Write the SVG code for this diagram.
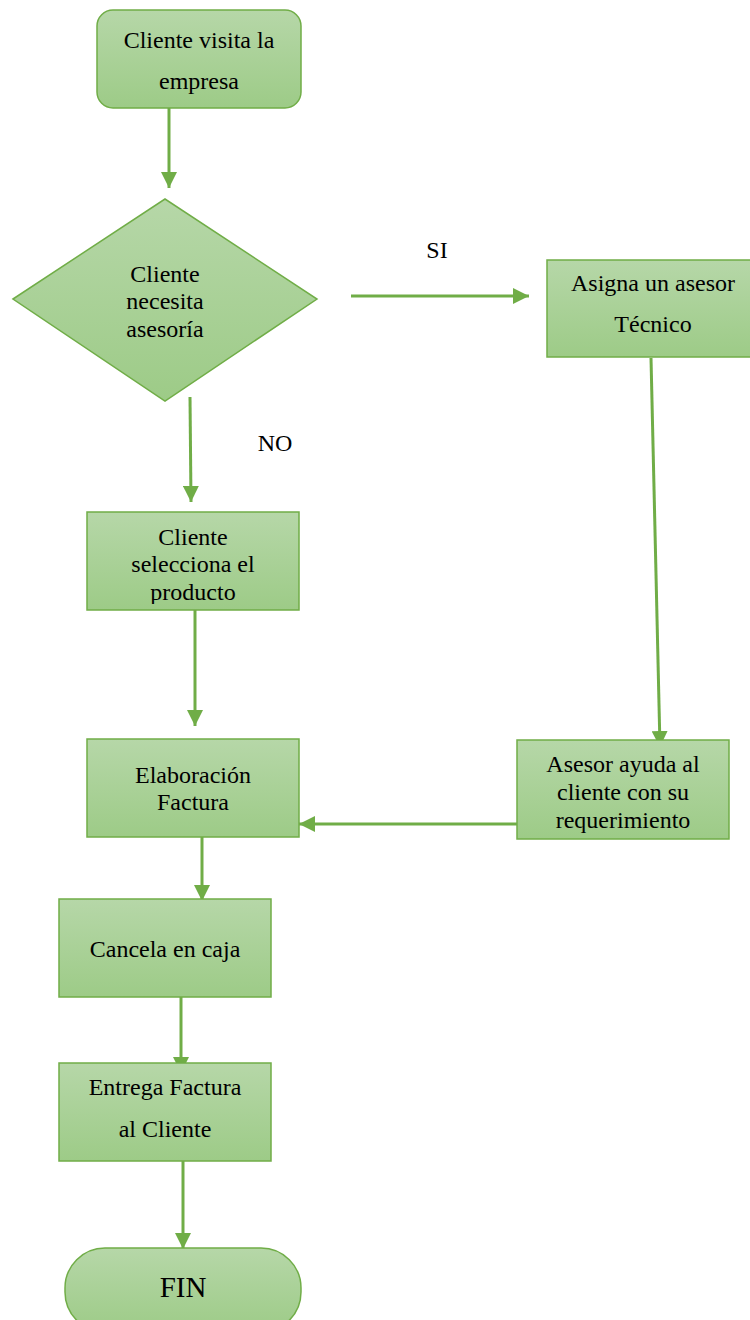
<svg xmlns="http://www.w3.org/2000/svg" width="750" height="1320" viewBox="0 0 750 1320">
<style>
.box{fill:url(#g);stroke:#70ad47;stroke-width:1.5}
.t{font-family:"Liberation Serif","Times New Roman",serif;font-size:24px;fill:#000;text-anchor:middle}
.c{stroke:#70ad47;stroke-width:3;fill:none;marker-end:url(#ah)}
</style>
<defs>
<linearGradient id="g" x1="0" y1="0" x2="0" y2="1">
<stop offset="0" stop-color="#b6d7a8"/>
<stop offset="1" stop-color="#9dcb87"/>
</linearGradient>
<marker id="ah" markerUnits="userSpaceOnUse" markerWidth="16" markerHeight="16" viewBox="0 0 16 16" refX="16" refY="8" orient="auto">
<path d="M0,0 L16,8 L0,16 Z" fill="#70ad47"/>
</marker>
<clipPath id="c1"><rect x="87" y="512" width="212" height="92"/></clipPath>
<clipPath id="c2"><rect x="517" y="740" width="212" height="94"/></clipPath>
</defs>
<g id="connectors">
<line class="c" x1="169" y1="108" x2="169" y2="188"/>
<line class="c" x1="351" y1="296" x2="529" y2="296"/>
<line class="c" x1="190" y1="397" x2="191" y2="502"/>
<line class="c" x1="651" y1="358" x2="660" y2="747"/>
<line class="c" x1="195" y1="610" x2="195" y2="726"/>
<line class="c" x1="517" y1="824" x2="299" y2="824"/>
<line class="c" x1="202" y1="837" x2="202" y2="901"/>
<line class="c" x1="181" y1="997" x2="181" y2="1073"/>
<line class="c" x1="183" y1="1160" x2="183" y2="1249"/>
<text class="t" x="437" y="258">SI</text>
<text class="t" x="275" y="451">NO</text>
</g>
<g id="n1">
<rect class="box" x="97" y="10" width="204" height="98" rx="16"/>
<text class="t" x="199" y="48">Cliente visita la</text>
<text class="t" x="199" y="89">empresa</text>
</g>
<g id="n2">
<polygon class="box" points="13,299 165,199 317,299 165,401"/>
<text class="t" x="165" y="282">Cliente</text>
<text class="t" x="165" y="309">necesita</text>
<text class="t" x="165" y="337">asesoría</text>
</g>
<g id="n3">
<rect class="box" x="547" y="260" width="206" height="97"/>
<text class="t" x="653" y="291">Asigna un asesor</text>
<text class="t" x="653" y="332">Técnico</text>
</g>
<g id="n4">
<rect class="box" x="87" y="512" width="212" height="98"/>
<g clip-path="url(#c1)">
<text class="t" x="193" y="545">Cliente</text>
<text class="t" x="193" y="572">selecciona el</text>
<text class="t" x="193" y="600">producto</text>
</g>
</g>
<g id="n5">
<rect class="box" x="87" y="739" width="212" height="98"/>
<text class="t" x="193" y="783">Elaboración</text>
<text class="t" x="193" y="810">Factura</text>
</g>
<g id="n6">
<rect class="box" x="517" y="740" width="212" height="99"/>
<g clip-path="url(#c2)">
<text class="t" x="623" y="772">Asesor ayuda al</text>
<text class="t" x="623" y="800">cliente con su</text>
<text class="t" x="623" y="828">requerimiento</text>
</g>
</g>
<g id="n7">
<rect class="box" x="59" y="899" width="212" height="98"/>
<text class="t" x="165" y="957">Cancela en caja</text>
</g>
<g id="n8">
<rect class="box" x="59" y="1063" width="212" height="98"/>
<text class="t" x="165" y="1095">Entrega Factura</text>
<text class="t" x="165" y="1137">al Cliente</text>
</g>
<g id="n9">
<rect class="box" x="65" y="1248" width="236" height="84" rx="40"/>
<text class="t" x="183" y="1297" style="font-size:29px">FIN</text>
</g>
</svg>
